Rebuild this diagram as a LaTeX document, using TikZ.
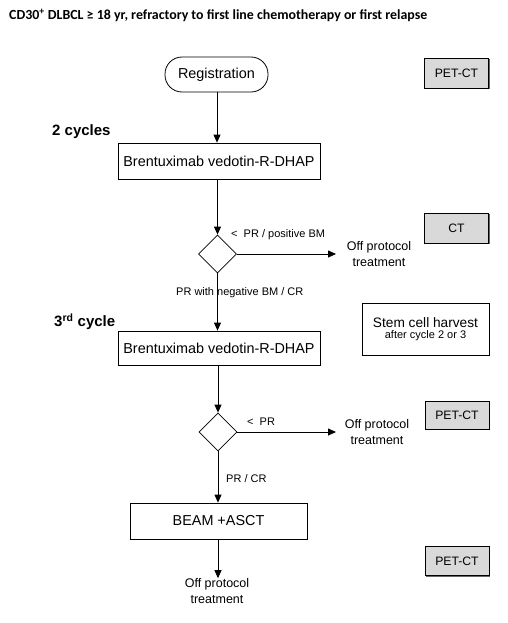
\documentclass[tikz,border=0pt]{standalone}
\usepackage{fontspec}
\setmainfont{Liberation Sans}
\newfontfamily\titlefont{Carlito}
\usetikzlibrary{arrows.meta,shadows,shapes.geometric}
\begin{document}
\begin{tikzpicture}[x=1pt,y=-1pt,
  every node/.style={inner sep=0pt, align=center},
  box/.style={draw, line width=0.8pt, minimum width=202pt, minimum height=36pt, font=\fontsize{14.4}{16}\selectfont},
  graybox/.style={draw, line width=0.8pt, fill=black!15, minimum width=64pt, minimum height=30pt, font=\fontsize{12.2}{14}\selectfont,
     drop shadow={shadow xshift=1pt, shadow yshift=-1pt, fill=black!60, opacity=1}},
  dia/.style={draw, line width=0.8pt, diamond, minimum width=38pt, minimum height=38pt},
  lbl/.style={font=\fontsize{11}{13}\selectfont, anchor=west},
  off/.style={font=\fontsize{12.5}{16}\selectfont},
  cyc/.style={font=\bfseries\fontsize{15}{17}\selectfont, anchor=west},
  arr/.style={-{Triangle[length=8pt,width=7pt]}, line width=0.8pt},
  ln/.style={line width=0.8pt}]
\useasboundingbox (0,0) rectangle (508,623);
\node[anchor=base west, font=\titlefont\bfseries\fontsize{13.9}{15}\selectfont] (title) at (9,20) {CD30\textsuperscript{+} DLBCL ≥ 18 yr, refractory to first line chemotherapy or first relapse};
\node[draw, line width=0.8pt, rounded corners=17pt, minimum width=103pt, minimum height=35pt, font=\fontsize{14.4}{16}\selectfont] (reg) at (216.5,74.5) {Registration};
\node[graybox] (pet1) at (456.5,73) {PET-CT};
\node[cyc] (c2) at (52,132) {2 cycles};
\node[box] (b1) at (219,161) {Brentuximab vedotin-R-DHAP};
\node[dia] (d1) at (217.5,254) {};
\node[lbl] (l1) at (231,235) {<\ \ PR / positive BM};
\node[off] (o1) at (379,254) {Off protocol\\treatment};
\coordinate (o1w) at (336,254);
\node[graybox] (ct) at (456.5,228) {CT};
\node[lbl] (l2) at (176,293) {PR with negative BM / CR};
\node[cyc] (c3) at (54,322) {3\textsuperscript{rd} cycle};
\node[box, minimum height=34pt] (b2) at (219,348) {Brentuximab vedotin-R-DHAP};
\node[draw, line width=0.8pt, minimum width=127pt, minimum height=52pt] (sc) at (425.5,329) {\fontsize{13.7}{16}\selectfont Stem cell harvest\\[-1pt]\fontsize{11}{13}\selectfont after cycle 2 or 3};
\node[dia] (d2) at (218,432) {};
\node[lbl] (l3) at (247,422) {<\ \ PR};
\node[off] (o2) at (377,432) {Off protocol\\treatment};
\coordinate (o2w) at (336,432);
\node[graybox, minimum height=28pt] (pet2) at (457,415) {PET-CT};
\node[lbl] (l4) at (226,479) {PR / CR};
\node[box, minimum width=177pt] (b3) at (218.5,521) {BEAM +ASCT};
\node[off] (o3) at (217,591) {Off protocol\\treatment};
\node[graybox, minimum height=29pt] (pet3) at (457,561) {PET-CT};
\draw[arr] (reg.south -| 217,0) -- (b1.north -| 217,0);
\draw[arr] (b1.south -| d1) -- (d1.north);
\draw[arr] (d1.east) -- (o1w);
\draw[arr] (d1.south) -- (b2.north -| d1);
\draw[arr] (b2.south -| d2) -- (d2.north);
\draw[arr] (d2.east) -- (o2w);
\draw[arr] (d2.south) -- (b3.north -| d2);
\draw[arr] (b3.south -| d2) -- (o3.north -| d2);
\end{tikzpicture}
\end{document}
